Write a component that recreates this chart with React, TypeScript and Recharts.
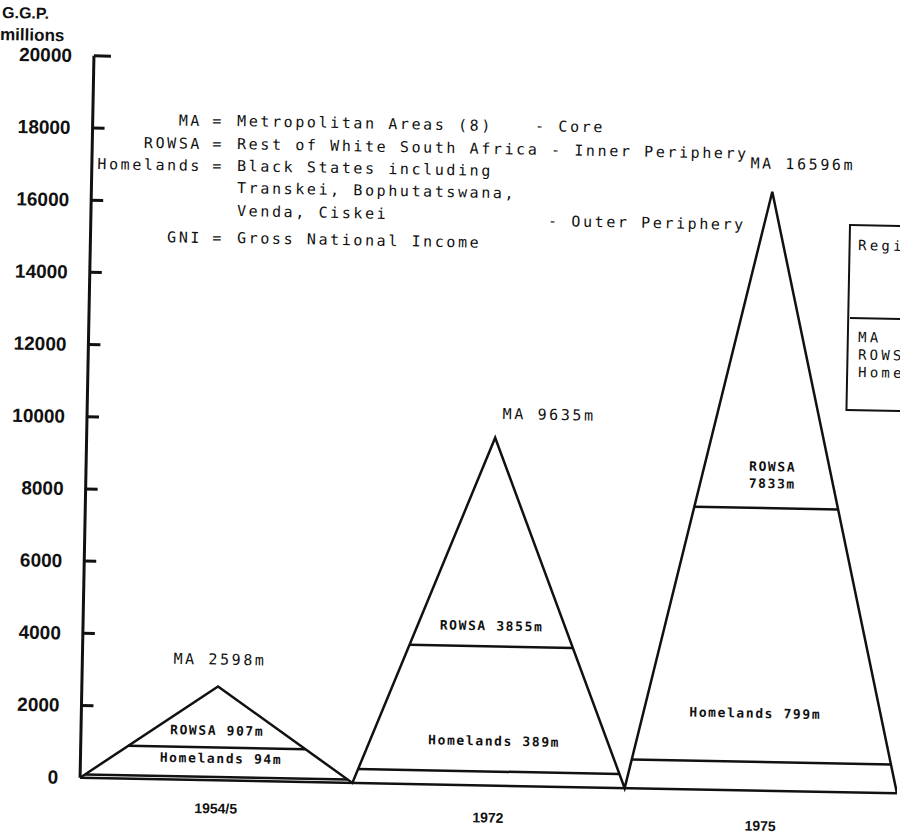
import React from 'react';
import { ComposedChart, Line, XAxis, YAxis, Scatter, Customized } from 'recharts';

// ---------- data ----------
const categories = ['1954/5', '1972', '1975'];
const maValues = [2598, 9635, 16596];
const rowsaValues = [907, 3855, 7833];
const homelandsValues = [94, 389, 799];
const yTicks = [0, 2000, 4000, 6000, 8000, 10000, 12000, 14000, 16000, 18000, 20000];
const maLabels = ['MA 2598m', 'MA 9635m', 'MA 16596m'];
const rowsaLabels = [['ROWSA 907m'], ['ROWSA 3855m'], ['ROWSA', '7833m']];
const homelandsLabels = ['Homelands 94m', 'Homelands 389m', 'Homelands 799m'];
const legendKeys = ['MA', 'ROWSA', 'Homelands', '', '', 'GNI'];
const legendTexts = [
  'Metropolitan Areas (8)',
  'Rest of White South Africa',
  'Black States including',
  'Transkei, Bophutatswana,',
  'Venda, Ciskei',
  'Gross National Income',
];
const zoneTexts = ['- Core', '- Inner Periphery', '- Outer Periphery'];
const tableRows = ['MA', 'ROWSA', 'Homelands'];

// ---------- layout (styles / offsets only) ----------
const TILT = 1.1; // the scanned page is slightly rotated
const SIN = Math.sin((TILT * Math.PI) / 180);
const COS = Math.cos((TILT * Math.PI) / 180);
// page position -> position inside the rotated chart
const U = (x: number, y: number) => ({ x: x * COS + y * SIN, y: -x * SIN + y * COS });

const MA_DX = [1.5, 53.5, 30];
const MA_DY = [-22, -19, -23];
const ROWSA_DX = [0, 0, 5.6];
const ROWSA_DY = [-12.5, -16, -20];
const HOME_DX = [4.4, 4.8, -7];
const HOME_DY = [-14, -26, -44];
const XTICK_DY = [33, 37, 40];
const LEGEND_Y = [126, 149, 171, 193, 216, 243];
const ZONE_POS = [
  [535, 131],
  [551, 155],
  [548, 226],
];

const MONO = '"DejaVu Sans Mono", "Liberation Mono", monospace';
const SANS = '"Liberation Sans", Arial, sans-serif';
const INK = '#111';

// triangle outline built from the data
const outline = categories
  .flatMap((_, i) => [
    { x: i, y: 0 },
    { x: i + 0.5, y: maValues[i] },
  ])
  .concat([{ x: categories.length, y: 0 }]);

// horizontal level lines inside each triangle (clipped by the triangle sides)
const levelSegments = categories.flatMap((_, i) =>
  [rowsaValues[i], homelandsValues[i]].map((h) => {
    const half = 0.5 * (1 - h / maValues[i]);
    return [
      { x: i + 0.5 - half, y: h },
      { x: i + 0.5 + half, y: h },
    ];
  })
);

const labelPoints = categories.flatMap((_, i) => [
  { x: i + 0.5, y: maValues[i], kind: 'ma', i },
  { x: i + 0.5, y: rowsaValues[i], kind: 'rowsa', i },
  { x: i + 0.5, y: homelandsValues[i], kind: 'home', i },
]);

const renderLabel = (props: any) => {
  const { cx, cy, payload } = props;
  const i = payload.i;
  if (payload.kind === 'ma') {
    return (
      <text x={cx + MA_DX[i]} y={cy + MA_DY[i]} textAnchor="middle" fontFamily={MONO} fontSize={15} letterSpacing={2.6} fill={INK}>
        {maLabels[i]}
      </text>
    );
  }
  if (payload.kind === 'rowsa') {
    const lines = rowsaLabels[i];
    const lh = 17;
    return (
      <text textAnchor="middle" fontFamily={MONO} fontSize={13} fontWeight="bold" letterSpacing={1.6} fill={INK}>
        {lines.map((l, k) => (
          <tspan key={k} x={cx + ROWSA_DX[i]} y={cy + ROWSA_DY[i] - (lines.length - 1 - k) * lh}>
            {l}
          </tspan>
        ))}
      </text>
    );
  }
  return (
    <text x={cx + HOME_DX[i]} y={cy + HOME_DY[i]} textAnchor="middle" fontFamily={MONO} fontSize={13} fontWeight="bold" letterSpacing={1.6} fill={INK}>
      {homelandsLabels[i]}
    </text>
  );
};

const YTick = (props: any) => {
  const { x, y, payload } = props;
  const v = payload.value;
  return (
    <g>
      <text x={x - 22} y={y + 6.5} textAnchor="end" fontFamily={SANS} fontWeight="bold" fontSize={19} fill={INK}>
        {v}
      </text>
      {v > 0 && <line x1={x} x2={x + (v === 20000 ? 17 : 12)} y1={y} y2={y} stroke={INK} strokeWidth={3} />}
    </g>
  );
};

const XTick = (props: any) => {
  const { x, y, payload } = props;
  const idx = Math.round(payload.value - 0.5);
  return (
    <text x={x} y={y + XTICK_DY[idx]} textAnchor="middle" fontFamily={SANS} fontWeight="bold" fontSize={14} fill={INK}>
      {categories[idx]}
    </text>
  );
};

const Annotations = () => {
  const t = { fontFamily: MONO, fontSize: 15, letterSpacing: 2.6, fill: INK } as any;
  const tt = { fontFamily: MONO, fontSize: 14, letterSpacing: 3.2, fill: INK } as any;
  const P = (x: number, y: number) => U(x, y);
  const title1 = P(2, 18);
  const title2 = P(0, 40);
  const box = P(850, 225);
  const div = P(850, 318);
  return (
    <g>
      <text x={title1.x} y={title1.y} fontFamily={SANS} fontWeight="bold" fontSize={16} fill={INK}>G.G.P.</text>
      <text x={title2.x} y={title2.y} fontFamily={SANS} fontWeight="bold" fontSize={17} fill={INK}>millions</text>
      {legendTexts.map((txt, k) => {
        const y = LEGEND_Y[k];
        const a = P(202, y);
        const e = P(218, y);
        const b = P(237, y);
        return (
          <g key={k}>
            {legendKeys[k] && <text x={a.x} y={a.y} textAnchor="end" {...t}>{legendKeys[k]}</text>}
            {legendKeys[k] && <text x={e.x} y={e.y} textAnchor="middle" {...t}>=</text>}
            <text x={b.x} y={b.y} {...t}>{txt}</text>
          </g>
        );
      })}
      {zoneTexts.map((txt, k) => {
        const p = P(ZONE_POS[k][0], ZONE_POS[k][1]);
        return <text key={k} x={p.x} y={p.y} {...t}>{txt}</text>;
      })}
      <rect x={box.x} y={box.y} width={90} height={185} fill="none" stroke={INK} strokeWidth={2} />
      <line x1={div.x} x2={div.x + 90} y1={box.y + 93} y2={box.y + 93} stroke={INK} strokeWidth={2} />
      {(() => {
        const r = P(858, 250);
        return <text x={r.x} y={r.y} {...tt}>Region</text>;
      })()}
      {tableRows.map((txt, k) => {
        const p = P(858, 342 + k * 17.5);
        return <text key={k} x={p.x} y={p.y} {...tt}>{txt}</text>;
      })}
    </g>
  );
};

export default function App() {
  return (
    <div style={{ position: 'absolute', left: 0, top: 0, width: 900, height: 840, overflow: 'hidden', background: '#fff' }}>
      <div style={{ transform: `rotate(${TILT}deg)`, transformOrigin: '0 0', width: 915, height: 840 }}>
        <ComposedChart width={915} height={840} margin={{ top: 54, right: 3, bottom: 0, left: 0 }}>
          <XAxis
            type="number"
            dataKey="x"
            domain={[0, categories.length]}
            ticks={categories.map((_, i) => i + 0.5)}
            allowDataOverflow
            height={64}
            tickLine={false}
            tickSize={0}
            tickMargin={0}
            axisLine={{ stroke: INK, strokeWidth: 2.5 }}
            tick={<XTick />}
          />
          <YAxis
            type="number"
            domain={[0, 20000]}
            ticks={yTicks}
            width={95}
            tickLine={false}
            tickSize={0}
            tickMargin={0}
            axisLine={{ stroke: INK, strokeWidth: 3 }}
            tick={<YTick />}
            interval={0}
          />
          <Line
            data={outline}
            dataKey="y"
            type="linear"
            stroke={INK}
            strokeWidth={2.5}
            dot={false}
            activeDot={false}
            isAnimationActive={false}
          />
          {levelSegments.map((seg, k) => (
            <Line
              key={k}
              data={seg}
              dataKey="y"
              type="linear"
              stroke={INK}
              strokeWidth={2.5}
              dot={false}
              activeDot={false}
              isAnimationActive={false}
            />
          ))}
          <Scatter data={labelPoints} dataKey="y" shape={renderLabel} isAnimationActive={false} />
          <Customized component={<Annotations />} />
        </ComposedChart>
      </div>
    </div>
  );
}
